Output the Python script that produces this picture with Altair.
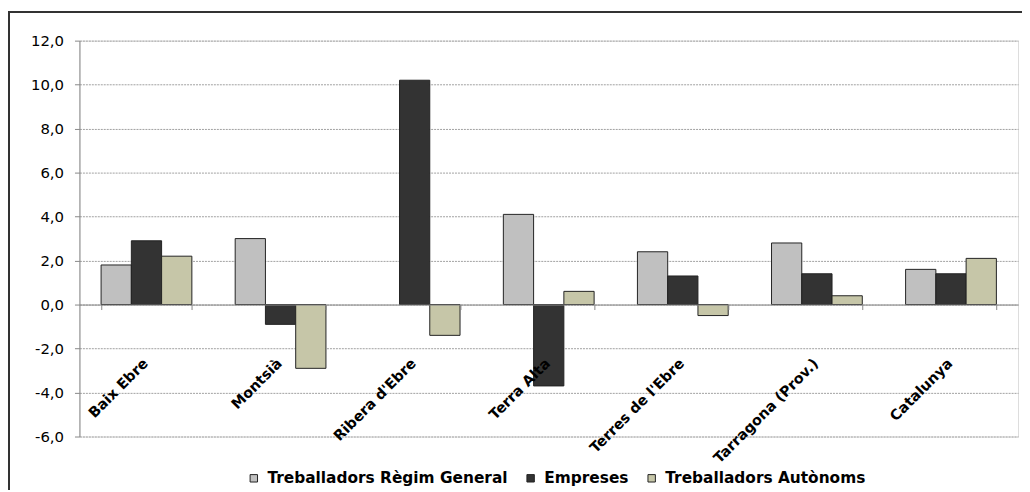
import altair as alt
import pandas as pd

categories = ["Baix Ebre", "Montsià", "Ribera d'Ebre", "Terra Alta",
              "Terres de l'Ebre", "Tarragona (Prov.)", "Catalunya"]
series = ["Treballadors Règim General", "Empreses", "Treballadors Autònoms"]
regim_general = [1.8, 3.0, None, 4.1, 2.4, 2.8, 1.6]
empreses = [2.9, -0.9, 10.2, -3.7, 1.3, 1.4, 1.4]
autonoms = [2.2, -2.9, -1.4, 0.6, -0.5, 0.4, 2.1]
y_ticks = [-6, -4, -2, 0, 2, 4, 6, 8, 10, 12]
colors = ["#C0C0C0", "#333333", "#C6C6A8"]

rows = []
for name, vals in zip(series, [regim_general, empreses, autonoms]):
    for cat, v in zip(categories, vals):
        if v is not None:
            rows.append({"cat": cat, "serie": name, "val": v})
df = pd.DataFrame(rows)

W, H = 946, 399
FONT = "DejaVu Sans"

bars = alt.Chart(df).mark_bar(stroke="#222222", strokeWidth=1).encode(
    x=alt.X("cat:N", sort=categories,
            scale=alt.Scale(paddingInner=0.323, paddingOuter=0.1615),
            axis=alt.Axis(title=None, offset=-133, labelAngle=315,
                          labelAlign="right", labelBaseline="middle",
                          labelPadding=52, labelOffset=-1,
                          tickBand="extent", tickSize=5,
                          tickColor="#888888", domainColor="#888888",
                          labelFont=FONT, labelFontSize=14.5,
                          labelFontWeight="bold", labelColor="black",
                          labelLimit=300, zindex=1, grid=False)),
    xOffset=alt.XOffset("serie:N", sort=series,
                        scale=alt.Scale(paddingInner=0, paddingOuter=0)),
    y=alt.Y("val:Q", scale=alt.Scale(domain=[-6, 12], nice=False, zero=False),
            axis=alt.Axis(title=None, values=y_ticks,
                          labelExpr="replace(replace(format(datum.value, '.1f'), '.', ','), '\u2212', '-')",
                          tickSize=5, tickColor="#888888", domainColor="#888888",
                          labelPadding=11, labelFont=FONT, labelFontSize=15,
                          labelColor="black", gridColor="#A0A0A0",
                          gridDash=[2, 1], gridWidth=1)),
    color=alt.Color("serie:N", sort=series,
                    scale=alt.Scale(domain=series, range=colors),
                    legend=alt.Legend(title=None, orient="none",
                                      legendX=168, legendY=433,
                                      direction="horizontal",
                                      symbolType="square", symbolSize=56,
                                      symbolStrokeColor="#222222",
                                      symbolStrokeWidth=1,
                                      labelFont=FONT,
                                      labelFontSize=15.5, labelFontWeight="bold",
                                      labelColor="black", labelLimit=400,
                                      columnPadding=15, labelOffset=6)),
)

border_top = alt.Chart(df).mark_rule(color="#333333", strokeWidth=1.5).encode(
    x=alt.value(-72), x2=alt.value(W + 4), y=alt.value(-29))
border_left = alt.Chart(df).mark_rule(color="#333333", strokeWidth=1.5).encode(
    x=alt.value(-71.5), y=alt.value(-29), y2=alt.value(H + 60))

chart = alt.layer(bars, border_top, border_left).properties(
    width=W, height=H,
    autosize=alt.AutoSizeParams(type="none"),
    padding={"left": 72, "top": 31, "right": 4, "bottom": 52},
).configure_view(stroke=None).configure(background="white")

chart.save("out.html", embed_options={"renderer": "svg", "actions": False})
